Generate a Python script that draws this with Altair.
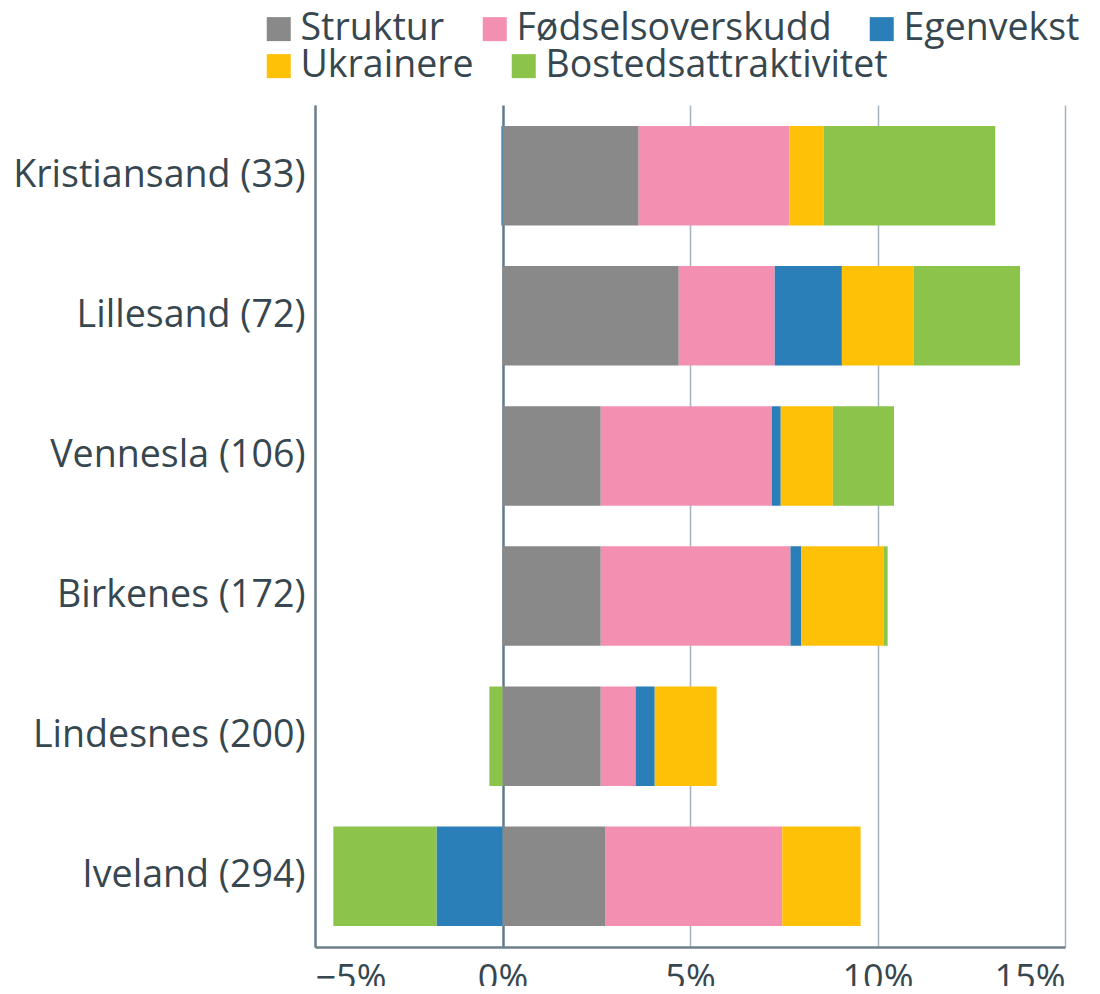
import altair as alt
import pandas as pd

municipalities = ["Kristiansand (33)", "Lillesand (72)", "Vennesla (106)",
                  "Birkenes (172)", "Lindesnes (200)", "Iveland (294)"]
components = ["Struktur", "Fødselsoverskudd", "Egenvekst", "Ukrainere", "Bostedsattraktivitet"]
colors = ["#898989", "#f390b2", "#2a7fb8", "#fec107", "#8bc34b"]

struktur = [3.63, 4.70, 2.62, 2.62, 2.62, 2.75]
fodsel = [4.02, 2.56, 4.56, 5.06, 0.93, 4.71]
egenvekst = [-0.03, 1.79, 0.24, 0.29, 0.51, -1.76]
ukrainere = [0.91, 1.92, 1.39, 2.19, 1.65, 2.09]
bosted = [4.58, 2.83, 1.63, 0.11, -0.35, -2.75]

tick_values = [-5, 0, 5, 10, 15]

series = [struktur, fodsel, egenvekst, ukrainere, bosted]
rows = []
for ci, (comp, vals) in enumerate(zip(components, series)):
    for m, v in zip(municipalities, vals):
        rows.append({"kommune": m, "komponent": comp, "verdi": v, "rekkefolge": ci})
df = pd.DataFrame(rows)

TEXT = "#37474f"
FONT = "Open Sans"

legend_rows = [components[:3], components[3:]]
legend_colors = [colors[:3], colors[3:]]

base = alt.Chart(df).transform_stack(
    stack="verdi", groupby=["kommune"], as_=["start", "end"],
    sort=[alt.SortField("rekkefolge", order="ascending")], offset="zero",
)

y_enc = alt.Y("kommune:N", sort=municipalities, title=None,
              scale=alt.Scale(paddingInner=0.29, paddingOuter=0.15),
              axis=alt.Axis(ticks=False, labelPadding=10, labelFontSize=37.6,
                            labelColor=TEXT, labelFont=FONT, domainColor="#6d7f8b",
                            domainWidth=2.5, grid=False, labelLimit=400))
x_enc = alt.X("start:Q", title=None,
              scale=alt.Scale(domain=[-5, 15], nice=False),
              axis=alt.Axis(values=tick_values, ticks=False, labelPadding=14,
                            labelFontSize=36, labelColor=TEXT, labelFont=FONT,
                            domainColor="#6d7f8b", domainWidth=2.5,
                            gridColor=alt.condition("datum.value === 0", alt.value("#5f7a8c"), alt.value("#a3b3bf")),
                            gridWidth=alt.condition("datum.value === 0", alt.value(2.5), alt.value(1.5)),
                            labelExpr="(datum.value < 0 ? '\u2212' + abs(datum.value) : datum.value) + '%'"))

layers = []
for i, (names, cols) in enumerate(zip(legend_rows, legend_colors)):
    layer = base.transform_filter(
        alt.FieldOneOfPredicate(field="komponent", oneOf=names)
    ).mark_bar().encode(
        y=y_enc,
        x=x_enc,
        x2="end:Q",
        color=alt.Color("komponent:N", sort=names,
                        scale=alt.Scale(domain=names, range=cols),
                        legend=alt.Legend(title=None, orient="none", legendX=-55,
                                          legendY=-95 + 37 * i,
                                          direction="horizontal", columnPadding=31,
                                          padding=0, symbolType="square", symbolSize=576,
                                          symbolStrokeWidth=0, symbolOpacity=1, labelOffset=3,
                                          labelFontSize=37.5, labelFont=FONT, labelColor=TEXT,
                                          labelLimit=500)),
    )
    layers.append(layer)

chart = alt.layer(*layers).resolve_scale(color="independent").properties(
    width=750,
    height=842,
    autosize=alt.AutoSizeParams(type="none"),
    padding={"left": 307, "top": 97, "right": 27, "bottom": 39},
).configure_view(stroke=None)

chart.save("out.html", embed_options={"renderer": "svg", "actions": False})
